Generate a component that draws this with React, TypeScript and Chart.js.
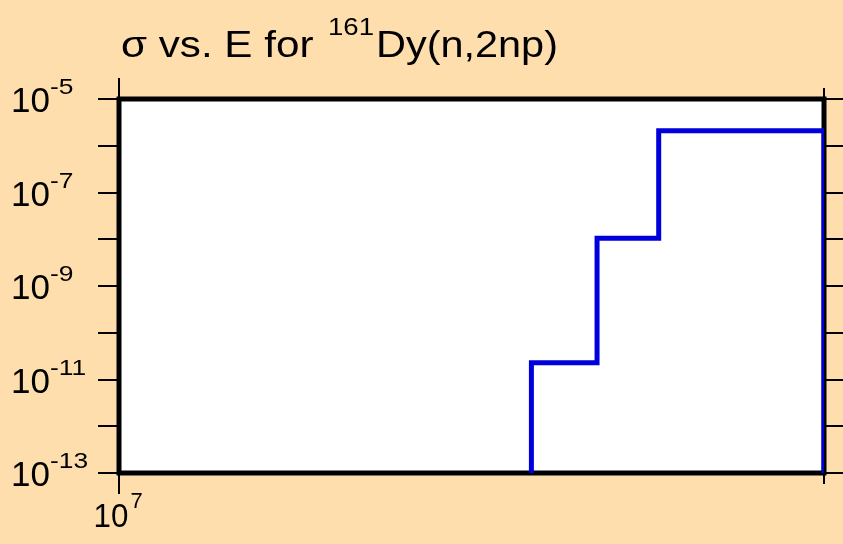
import React, { useEffect, useRef } from "react";
import { Chart, registerables } from "chart.js";

Chart.register(...registerables);

// ---- data ----
const binEdgesEV = [1.5e7, 1.6e7, 1.7e7, 2.0e7];
const crossSections = [2.28e-11, 1.05e-8, 2.09e-6];
const floorValue = 1e-13;

const xMin = 1e7;
const xMax = 2e7;
const yMin = 1e-13;
const yMax = 1e-5;

const xMajorTicks = [1e7];
const xMinorTicks = [2e7];
const xLabelExponents = [7];
const yDecadeTicks = [1e-13, 1e-12, 1e-11, 1e-10, 1e-9, 1e-8, 1e-7, 1e-6, 1e-5];
const yLabelExponents = [-13, -11, -9, -7, -5];

const titleMain = "σ vs. E for";
const titleSup = "161";
const titleTail = "Dy(n,2np)";

const FONT = '"Liberation Sans", Arial, Helvetica, sans-serif';

function buildPoints() {
  const pts: { x: number; y: number }[] = [];
  pts.push({ x: binEdgesEV[0], y: floorValue });
  for (let i = 0; i < crossSections.length; i++) {
    pts.push({ x: binEdgesEV[i], y: crossSections[i] });
    pts.push({ x: binEdgesEV[i + 1], y: crossSections[i] });
  }
  pts.push({ x: binEdgesEV[binEdgesEV.length - 1], y: floorValue });
  return pts;
}

function drawFit(ctx: CanvasRenderingContext2D, text: string, x: number, y: number, size: number, sx: number) {
  ctx.save();
  ctx.font = `${size}px ${FONT}`;
  ctx.translate(x, y);
  ctx.scale(sx, 1);
  ctx.fillText(text, 0, 0);
  const w = ctx.measureText(text).width * sx;
  ctx.restore();
  return w;
}

const framePlugin = {
  id: "framePlugin",
  beforeDraw(chart: any) {
    const ctx = chart.ctx as CanvasRenderingContext2D;
    ctx.save();
    ctx.fillStyle = "#FFDEAD";
    ctx.fillRect(0, 0, chart.width, chart.height);
    const a = chart.chartArea;
    ctx.fillStyle = "#ffffff";
    ctx.fillRect(a.left, a.top, a.right - a.left, a.bottom - a.top);
    ctx.restore();
  },
  beforeDatasetsDraw(chart: any) {
    const ctx = chart.ctx as CanvasRenderingContext2D;
    const a = chart.chartArea;
    const xs = chart.scales.x;
    const ys = chart.scales.y;
    ctx.save();
    ctx.strokeStyle = "#000";
    ctx.lineWidth = 2;
    ctx.beginPath();
    for (const v of yDecadeTicks) {
      const y = Math.round(ys.getPixelForValue(v));
      ctx.moveTo(a.left - 21, y);
      ctx.lineTo(a.left, y);
      ctx.moveTo(a.right, y);
      ctx.lineTo(a.right + 20, y);
    }
    for (const v of xMajorTicks) {
      const x = xs.getPixelForValue(v);
      ctx.moveTo(x, a.top - 21);
      ctx.lineTo(x, a.top);
      ctx.moveTo(x, a.bottom);
      ctx.lineTo(x, a.bottom + 21);
    }
    for (const v of xMinorTicks) {
      const x = xs.getPixelForValue(v);
      ctx.moveTo(x, a.top - 11);
      ctx.lineTo(x, a.top);
      ctx.moveTo(x, a.bottom);
      ctx.lineTo(x, a.bottom + 11);
    }
    ctx.stroke();
    ctx.lineWidth = 5;
    ctx.strokeRect(a.left, a.top, a.right - a.left, a.bottom - a.top);
    ctx.restore();
  },
  afterDraw(chart: any) {
    const ctx = chart.ctx as CanvasRenderingContext2D;
    const a = chart.chartArea;
    const xs = chart.scales.x;
    const ys = chart.scales.y;
    ctx.save();
    ctx.fillStyle = "#000";
    ctx.textBaseline = "alphabetic";
    ctx.textAlign = "left";
    // y labels
    for (const e of yLabelExponents) {
      const y = ys.getPixelForValue(Math.pow(10, e));
      const w = drawFit(ctx, "10", 11, y + 13, 35, 1);
      drawFit(ctx, String(e), 11 + w, y - 5, 22, 1.2);
    }
    // x labels
    for (const e of xLabelExponents) {
      const x = xs.getPixelForValue(Math.pow(10, e));
      ctx.font = `33px ${FONT}`;
      const w1 = ctx.measureText("10").width;
      ctx.font = `22px ${FONT}`;
      const w2 = ctx.measureText(String(e)).width;
      const start = x - (w1 + w2) / 2 - 1;
      const w = drawFit(ctx, "10", start, a.bottom + 54, 33, 0.95);
      drawFit(ctx, String(e), start + w + 2, a.bottom + 35, 22, 1);
    }
    // title
    drawFit(ctx, titleMain, 121, 57, 37, 1.14);
    drawFit(ctx, titleSup, 328, 35, 24, 1.15);
    drawFit(ctx, titleTail, 376, 57, 37, 1.12);
    ctx.restore();
  },
};

export default function App() {
  const ref = useRef<HTMLCanvasElement | null>(null);
  useEffect(() => {
    document.body.style.margin = "0";
    const canvas = ref.current!;
    const chart = new Chart(canvas, {
      type: "line",
      data: {
        datasets: [
          {
            data: buildPoints(),
            borderColor: "#0000dd",
            borderWidth: 5,
            pointRadius: 0,
            fill: false,
            tension: 0,
            borderJoinStyle: "miter",
            borderCapStyle: "butt",
          },
        ],
      },
      options: {
        animation: false,
        responsive: false,
        maintainAspectRatio: false,
        devicePixelRatio: 1,
        layout: { padding: { left: 119, top: 99, right: 19, bottom: 71 } },
        plugins: { legend: { display: false }, tooltip: { enabled: false }, title: { display: false } },
        scales: {
          x: { type: "logarithmic", min: xMin, max: xMax, display: false },
          y: { type: "logarithmic", min: yMin, max: yMax, display: false },
        },
      },
      plugins: [framePlugin],
    } as any);
    return () => chart.destroy();
  }, []);
  return (
    <div style={{ width: 843, height: 544 }}>
      <canvas ref={ref} width={843} height={544} style={{ display: "block", width: 843, height: 544 }} />
    </div>
  );
}
